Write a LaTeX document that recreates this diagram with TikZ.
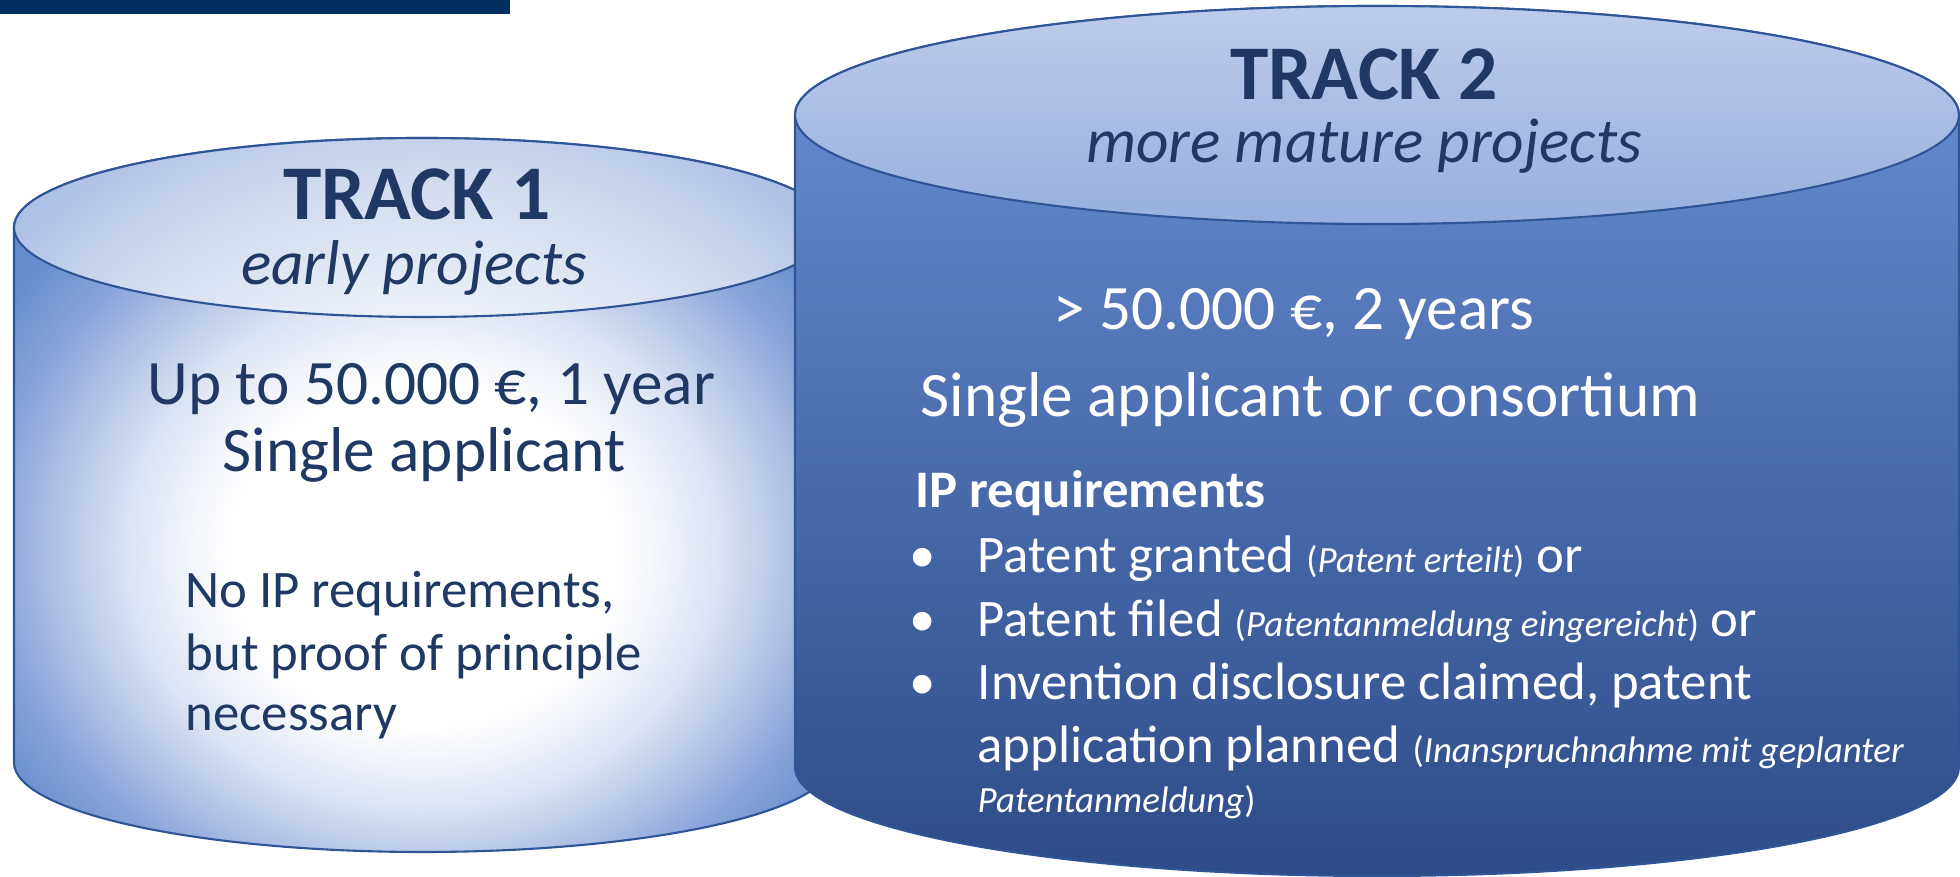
\documentclass[tikz,border=0pt]{standalone}
\usepackage{fontspec}
\setmainfont{Carlito}
\usetikzlibrary{positioning}

\definecolor{barnavy}{RGB}{0,48,96}
\definecolor{textnavy}{RGB}{31,56,100}
\definecolor{canline}{RGB}{47,85,151}
\definecolor{oneA}{RGB}{220,228,244}
\definecolor{oneB}{RGB}{165,186,226}
\definecolor{oneC}{RGB}{138,165,218}
\definecolor{oneD}{RGB}{106,143,208}
\definecolor{oneE}{RGB}{95,134,203}
\definecolor{lidA}{RGB}{243,246,251}
\definecolor{lidB}{RGB}{207,218,239}
\definecolor{lidC}{RGB}{175,194,230}
\definecolor{lidD}{RGB}{163,185,226}
\definecolor{twotop}{RGB}{106,145,214}
\definecolor{twomid}{RGB}{65,105,180}
\definecolor{twobot}{RGB}{45,75,136}
\definecolor{twolidtop}{RGB}{188,204,235}
\definecolor{twolidbot}{RGB}{151,176,222}

\pgfdeclareradialshading{onebody}{\pgfpoint{0bp}{-5bp}}{color(0bp)=(white); color(12bp)=(white); color(18bp)=(oneA); color(23.5bp)=(oneB); color(26bp)=(oneC); color(30bp)=(oneD); color(37bp)=(oneE); color(80bp)=(oneE)}
\pgfdeclareradialshading{onelid}{\pgfpoint{0bp}{-5bp}}{color(0bp)=(white); color(11bp)=(white); color(14.5bp)=(lidA); color(26bp)=(lidB); color(32.5bp)=(lidC); color(37.5bp)=(lidD); color(80bp)=(lidD)}

\newcommand{\aside}[1]{{\fontsize{10.5}{12}\selectfont(\textit{#1})}}

\begin{document}
\begin{tikzpicture}[x=0.01cm, y=-0.01cm,
	dark/.style={inner sep=0pt, text=textnavy},
	light/.style={inner sep=0pt, text=white},
	tracktitle/.style={font=\fontsize{22}{26}\selectfont\bfseries},
	tracksub/.style={font=\fontsize{18}{22}\selectfont\itshape},
	bigline/.style={font=\fontsize{18}{22}\selectfont},
	midline/.style={font=\fontsize{15}{18}\selectfont},
	canedge/.style={draw=canline, line width=0.6pt}]
	\useasboundingbox (0,0) rectangle (1960,877);
	\fill[barnavy] (0,0) rectangle (510,14);

	% track 1 can
	\shadedraw[shading=onebody, canedge] (14,227.5) -- (14,762.5)
		arc[start angle=180, end angle=0, x radius=409, y radius=89.5] -- (832,227.5)
		arc[start angle=0, end angle=-180, x radius=409, y radius=89.5] -- cycle;
	\begin{scope}
		\clip (423,227.5) ellipse [x radius=409, y radius=89.5];
		\shade[shading=onelid] (14,138) rectangle (832,852);
	\end{scope}
	\draw[canedge] (423,227.5) ellipse [x radius=409, y radius=89.5];

	% track 2 can
	\shadedraw[top color=twotop, middle color=twomid, bottom color=twobot, canedge] (795,115) -- (795,767)
		arc[start angle=180, end angle=0, x radius=582, y radius=109] -- (1959,115)
		arc[start angle=0, end angle=-180, x radius=582, y radius=109] -- cycle;
	\shadedraw[top color=twolidtop, bottom color=twolidbot, canedge] (1377,115) ellipse [x radius=582, y radius=109];

	% track 1 texts
	\node [dark, tracktitle, anchor=base]	(TrackOne)		at (417,220)	{TRACK 1};
	\node [dark, tracksub, anchor=base]	(TrackOneSub)	at (414,285)	{early projects};
	\node [dark, bigline, anchor=base west]	(OneBudget)	at (147,405)	{Up to 50.000 €, 1 year};
	\node [dark, bigline, anchor=base west]	(OneAppl)		at (222,472)	{Single applicant};
	\node [dark, midline, anchor=base west]	(OneIpA)		at (185,608)	{No IP requirements,};
	\node [dark, midline, anchor=base west]	(OneIpB)		at (185,671)	{but proof of principle};
	\node [dark, midline, anchor=base west]	(OneIpC)		at (185,731)	{necessary};

	% track 2 texts
	\node [dark, tracktitle, anchor=base]	(TrackTwo)		at (1364,100)	{TRACK 2};
	\node [dark, tracksub, anchor=base]	(TrackTwoSub)	at (1364,163)	{more mature projects};
	\node [light, bigline, anchor=base west]	(TwoBudget)	at (1053,330)	{> 50.000 €, 2 years};
	\node [light, bigline, anchor=base west]	(TwoAppl)		at (920,417)	{Single applicant or consortium};
	\node [light, midline, font=\fontsize{15}{18}\selectfont\bfseries, anchor=base west]	(TwoIpHead)	at (915,508)	{IP requirements};
	\foreach \y/\name in {573/Granted, 637/Filed, 700/Claimed}
		\node [light, midline, anchor=base]	(Dot\name)	at (923,\y)	{•};
	\node [light, midline, anchor=base west]	(TwoIpA)		at (977,573)	{Patent granted \aside{Patent erteilt} or};
	\node [light, midline, anchor=base west]	(TwoIpB)		at (977,637)	{Patent filed \aside{Patentanmeldung eingereicht} or};
	\node [light, midline, anchor=base west]	(TwoIpC)		at (977,700)	{Invention disclosure claimed, patent};
	\node [light, midline, anchor=base west]	(TwoIpD)		at (977,763)	{application planned {\fontsize{10.5}{12}\selectfont(\textit{Inanspruchnahme mit geplanter}}};
	\node [light, midline, anchor=base west]	(TwoIpE)		at (977,813)	{{\fontsize{10.5}{12}\selectfont\textit{Patentanmeldung})}};
\end{tikzpicture}
\end{document}
